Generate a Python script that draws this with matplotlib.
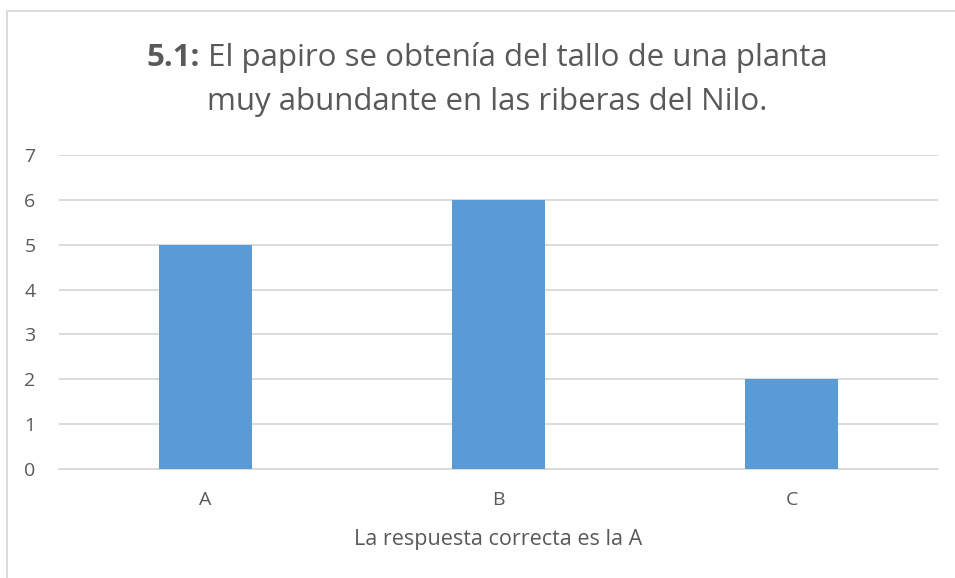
import matplotlib.pyplot as plt
from matplotlib.patches import Rectangle

# Datos del grafico
categorias = ["A", "B", "C"]
valores = [5, 6, 2]
titulo_negrita = "5.1:"
titulo_linea1 = " El papiro se obtenía del tallo de una planta"
titulo_linea2 = "muy abundante en las riberas del Nilo."
etiqueta_x = "La respuesta correcta es la A"

gris = "#595959"
plt.rcParams["font.family"] = ["Open Sans", "DejaVu Sans"]

fig = plt.figure(figsize=(9.55, 5.78), dpi=100)
W, H = 955, 578

# Borde del area del grafico
fig.patches.append(Rectangle((7 / W, -0.1), 1.2, 1 - 11 / H + 0.1, transform=fig.transFigure,
                             fill=False, edgecolor="#d9d9d9", linewidth=1.3))

ax = fig.add_axes([59 / W, 1 - 469 / H, (938 - 59) / W, (469 - 155) / H])
ax.bar(range(len(categorias)), valores, width=0.314, color="#5b9bd5", zorder=3)
ax.set_xlim(-0.5, len(categorias) - 0.5)
ax.set_ylim(0, 7)
ax.set_yticks(range(0, 8))
ax.set_xticks(range(len(categorias)))
ax.set_xticklabels(categorias)
ax.grid(axis="y", color="#d9d9d9", linewidth=1.3, zorder=0)
for s in ["top", "right", "left"]:
    ax.spines[s].set_visible(False)
ax.spines["bottom"].set_color("#d9d9d9")
ax.spines["bottom"].set_linewidth(1.3)
ax.tick_params(axis="both", length=0, colors=gris, labelsize=14)
ax.tick_params(axis="y", pad=17)
ax.tick_params(axis="x", pad=16)
ax.set_xlabel(etiqueta_x, color=gris, fontsize=15.5, labelpad=14)

# Titulo con parte en negrita
fig.canvas.draw()
r = fig.canvas.get_renderer()
t1 = fig.text(0, 0, titulo_negrita, fontsize=22.5, fontweight="bold", color=gris, va="baseline")
t2 = fig.text(0, 0, titulo_linea1, fontsize=22.5, color=gris, va="baseline")
w1 = t1.get_window_extent(r).width
w2 = t2.get_window_extent(r).width
x0 = (487 - (w1 + w2) / 2) / W
t1.set_position((x0, 1 - 66 / H))
t2.set_position((x0 + w1 / W, 1 - 66 / H))
fig.text(487 / W, 1 - 110 / H, titulo_linea2, fontsize=22.5, color=gris, ha="center", va="baseline")

plt.savefig("out.png", dpi=100)
